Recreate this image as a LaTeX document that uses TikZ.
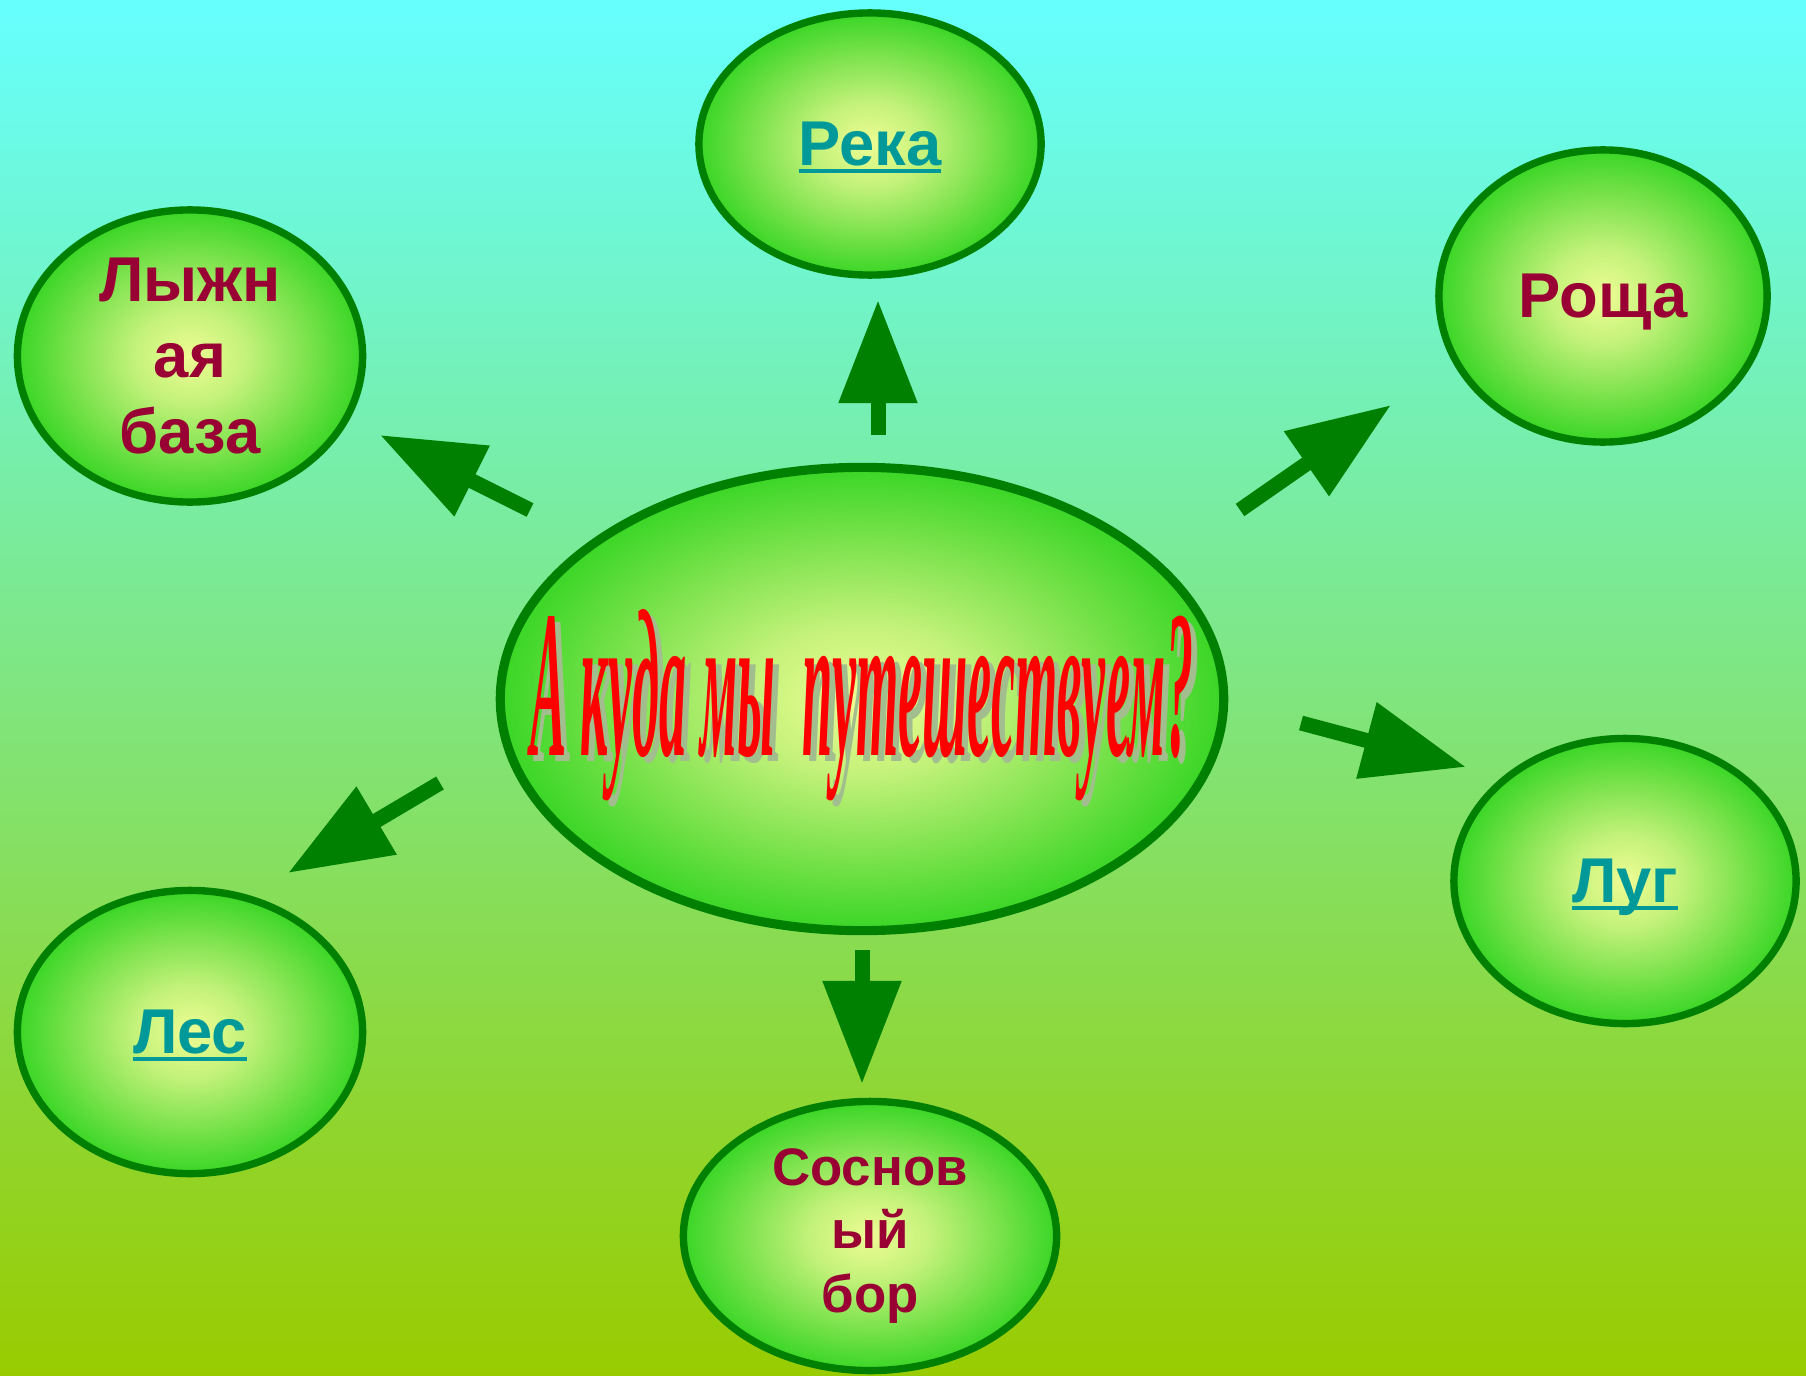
\documentclass[tikz,border=0pt]{standalone}
\usepackage{fontspec}
\setmainfont{Liberation Sans}
\newfontfamily\wordart{Liberation Serif}
\usetikzlibrary{shapes.geometric,arrows.meta}

\definecolor{skytop}{HTML}{66FFFF}
\definecolor{grassbot}{HTML}{99CC00}
\definecolor{rimgreen}{HTML}{008000}
\definecolor{linkteal}{HTML}{009999}
\definecolor{placered}{HTML}{990033}
\definecolor{glowin}{HTML}{EEFC94}
\definecolor{glowlight}{HTML}{C4F27A}
\definecolor{glowmid}{HTML}{84E452}
\definecolor{glowout}{HTML}{3AD626}
\definecolor{haze}{HTML}{A2BE8E}
\pgfdeclareradialshading{glow}{\pgfpoint{0bp}{0bp}}{color(0bp)=(glowin); color(8bp)=(glowlight); color(16bp)=(glowmid); color(25bp)=(glowout); color(50bp)=(glowout)}

\newcommand\linkword[1]{\setbox0\hbox{#1}\rlap{\rule[-0.12em]{\wd0}{0.075em}}\box0}
\newcommand\question{\resizebox{6.62cm}{1.46cm}{\wordart\bfseries\itshape А куда мы\ \ путешествуем?}}

\tikzset{
  place/.style={ellipse, draw=rimgreen, line width=2.1pt, shading=glow, inner sep=0pt,
    align=center, font=\fontsize{18pt}{21.6pt}\selectfont\bfseries},
  oneword/.style={text depth=0pt},
  away/.style={draw=rimgreen, line width=0.15cm, -{Triangle[length=1.03cm,width=0.75cm]}}
}

\begin{document}
\begin{tikzpicture}[x=0.01cm,y=-0.01cm]
\shade[top color=skytop, bottom color=grassbot] (0,0) rectangle (1806,1376);
\useasboundingbox (0,0) rectangle (1806,1376);

\coordinate (Q) at (862,699);
    \coordinate (R) at (870,144);
    \coordinate (G) at (1603,296);
    \coordinate (S) at (190,356);
    \coordinate (M) at (1625,881);
    \coordinate (F) at (190,1032);
    \coordinate (P) at (870,1236);

    \node (quest) at (Q)[place, line width=2.6pt, minimum width=7.23cm, minimum height=4.63cm]{};
    \node (reka) at (R)[place, oneword, text=linkteal, minimum width=3.42cm, minimum height=2.62cm]{\linkword{Река}};
    \node (roshcha) at (G)[place, oneword, text=placered, minimum width=3.28cm, minimum height=2.92cm]{Роща};
    \node (lyzhi) at (S)[place, text=placered, minimum width=3.45cm, minimum height=2.92cm]{Лыжн\\ая\\база};
    \node (lug) at (M)[place, oneword, text=linkteal, minimum width=3.42cm, minimum height=2.85cm]{\linkword{Луг}};
    \node (les) at (F)[place, oneword, text=linkteal, minimum width=3.45cm, minimum height=2.83cm]{\linkword{Лес}};
    \node (bor) at (P)[place, text=placered, font=\fontsize{15pt}{18pt}\selectfont\bfseries,
      minimum width=3.73cm, minimum height=2.69cm]{Соснов\\ый\\бор};

    \node (title) at (862,755)[anchor=base, inner sep=0pt, text=red]
      {\rlap{\kern0.06cm\raisebox{-0.06cm}{\color{haze}\question}}\question};

    \coordinate (up0) at (878,435);
    \coordinate (up1) at (878,300);
    \coordinate (ul0) at (530,510);
    \coordinate (ul1) at (380,435);
    \coordinate (ur0) at (1240,510);
    \coordinate (ur1) at (1391,405);
    \coordinate (rt0) at (1301,723);
    \coordinate (rt1) at (1466,767);
    \coordinate (ll0) at (440,783);
    \coordinate (ll1) at (288,873);
    \coordinate (dn0) at (862,950);
    \coordinate (dn1) at (862,1084);

    \draw[away] (up0) -- (up1);
    \draw[away] (ul0) -- (ul1);
    \draw[away] (ur0) -- (ur1);
    \draw[away] (rt0) -- (rt1);
    \draw[away] (ll0) -- (ll1);
    \draw[away] (dn0) -- (dn1);
\end{tikzpicture}
\end{document}
